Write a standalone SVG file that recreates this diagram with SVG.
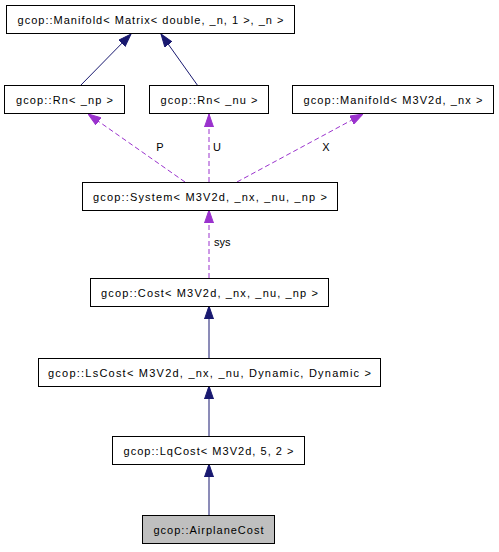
<svg xmlns="http://www.w3.org/2000/svg" width="499" height="552" viewBox="0 0 499 552">
<style>
  rect.n { fill: #ffffff; stroke: #000000; stroke-width: 1; }
  rect.cur { fill: #bfbfbf; stroke: #000000; stroke-width: 1; }
  text { font-family: "Liberation Sans", Arial, sans-serif; font-size: 11px; fill: #000000; }
  text.c { text-anchor: middle; }
  .inh { stroke: #191970; stroke-width: 1; fill: none; }
  .use { stroke: #9a32cd; stroke-width: 1; fill: none; stroke-dasharray: 5,3; }
</style>
<defs>
  <marker id="aBlue" markerUnits="userSpaceOnUse" markerWidth="13" markerHeight="10" refX="13" refY="5" orient="auto">
    <path d="M0,0.5 L13,5 L0,9.5 z" fill="#191970" stroke="#191970" stroke-width="1"/>
  </marker>
  <marker id="aPurple" markerUnits="userSpaceOnUse" markerWidth="13" markerHeight="10" refX="13" refY="5" orient="auto">
    <path d="M0,0.5 L13,5 L0,9.5 z" fill="#9a32cd" stroke="#9a32cd" stroke-width="1"/>
  </marker>
</defs>
<rect width="499" height="552" fill="#ffffff"/>
<g id="edges">
  <path class="inh" d="M80,86 L131,34" marker-end="url(#aBlue)"/>
  <path class="inh" d="M198,86 L161,34" marker-end="url(#aBlue)"/>
  <path class="use" d="M185,182 L88,114" marker-end="url(#aPurple)"/>
  <text x="160" y="151" class="c">P</text>
  <path class="use" d="M209,182 L209,114" marker-end="url(#aPurple)"/>
  <text x="213" y="151">U</text>
  <path class="use" d="M237,182 L363,114" marker-end="url(#aPurple)"/>
  <text x="326" y="151" class="c">X</text>
  <path class="use" d="M209,278 L209,210" marker-end="url(#aPurple)"/>
  <text x="214" y="246">sys</text>
  <path class="inh" d="M209,358 L209,306" marker-end="url(#aBlue)"/>
  <path class="inh" d="M209,436 L209,386" marker-end="url(#aBlue)"/>
  <path class="inh" d="M209,515 L209,464" marker-end="url(#aBlue)"/>
</g>
<g id="node_manifold_matrix">
  <rect class="n" x="6.5" y="5.5" width="288" height="28"/>
  <text x="150.5" y="23.5" class="c" textLength="266" lengthAdjust="spacing">gcop::Manifold&lt; Matrix&lt; double, _n, 1 &gt;, _n &gt;</text>
</g>
<g id="node_rn_np">
  <rect class="n" x="4.5" y="85.5" width="120" height="28"/>
  <text x="64.5" y="103.5" class="c" textLength="97" lengthAdjust="spacing">gcop::Rn&lt; _np &gt;</text>
</g>
<g id="node_rn_nu">
  <rect class="n" x="149.5" y="85.5" width="119" height="28"/>
  <text x="209" y="103.5" class="c" textLength="97" lengthAdjust="spacing">gcop::Rn&lt; _nu &gt;</text>
</g>
<g id="node_manifold_m3v2d">
  <rect class="n" x="292.5" y="85.5" width="201" height="28"/>
  <text x="393" y="103.5" class="c" textLength="179" lengthAdjust="spacing">gcop::Manifold&lt; M3V2d, _nx &gt;</text>
</g>
<g id="node_system">
  <rect class="n" x="82.5" y="182.5" width="255" height="28"/>
  <text x="210" y="200.5" class="c" textLength="234" lengthAdjust="spacing">gcop::System&lt; M3V2d, _nx, _nu, _np &gt;</text>
</g>
<g id="node_cost">
  <rect class="n" x="90.5" y="278.5" width="238" height="28"/>
  <text x="209.5" y="296.5" class="c" textLength="217" lengthAdjust="spacing">gcop::Cost&lt; M3V2d, _nx, _nu, _np &gt;</text>
</g>
<g id="node_lscost">
  <rect class="n" x="38.5" y="358.5" width="342" height="28"/>
  <text x="209.5" y="376.5" class="c" textLength="323" lengthAdjust="spacing">gcop::LsCost&lt; M3V2d, _nx, _nu, Dynamic, Dynamic &gt;</text>
</g>
<g id="node_lqcost">
  <rect class="n" x="112.5" y="436.5" width="192" height="28"/>
  <text x="208.5" y="454.5" class="c" textLength="170" lengthAdjust="spacing">gcop::LqCost&lt; M3V2d, 5, 2 &gt;</text>
</g>
<g id="node_airplanecost">
  <rect class="cur" x="142.5" y="515.5" width="132" height="28"/>
  <text x="208.5" y="533.5" class="c" textLength="110" lengthAdjust="spacing">gcop::AirplaneCost</text>
</g>
</svg>
